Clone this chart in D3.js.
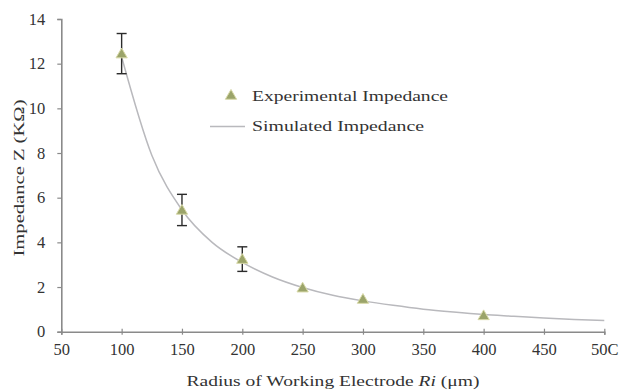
<!DOCTYPE html>
<html>
<head>
<meta charset="utf-8">
<script src="https://cdn.jsdelivr.net/npm/d3@7/dist/d3.min.js"></script>
<style>
  html, body { margin: 0; padding: 0; background: #fff; }
  svg { display: block; }
  text { font-family: "Liberation Serif", "Times New Roman", serif; fill: #333; }
</style>
</head>
<body>
<svg id="chart" width="620" height="392"></svg>
<script>
// Measured impedance vs. working-electrode radius
const radii = [100, 150, 200, 250, 300, 400];
const impedance = [12.45, 5.45, 3.25, 1.97, 1.46, 0.73];
const errors = [0.9, 0.7, 0.55, 0, 0, 0];

// Simulated impedance curve
const simRadii = [100, 125, 150, 175, 200, 225, 250, 275, 300, 325, 350, 375, 400, 425, 450, 475, 500];
const simImpedance = [12.3, 7.9, 5.45, 4.0, 3.1, 2.45, 1.98, 1.63, 1.38, 1.18, 1.01, 0.88, 0.77, 0.69, 0.61, 0.55, 0.5];

const xTicks = [50, 100, 150, 200, 250, 300, 350, 400, 450, 500];
const yTicks = [0, 2, 4, 6, 8, 10, 12, 14];

const svg = d3.select("#chart");
const x = d3.scaleLinear().domain([50, 500]).range([61.3, 604.3]);
const y = d3.scaleLinear().domain([0, 14]).range([331.7, 19]);

const axisColor = "#8a8a8a";
const tickFont = "font-family: 'Liberation Serif', serif; font-size: 16.5px; fill: #333;";

// x axis
const xAxis = svg.append("g").attr("transform", `translate(0,${y(0)})`)
  .call(d3.axisBottom(x).tickValues(xTicks).tickSize(3).tickPadding(9)
    .tickFormat(d => d === 500 ? "50C" : d));
xAxis.select(".domain").attr("stroke", axisColor).attr("stroke-width", 1.6);
xAxis.selectAll(".tick line").attr("stroke", axisColor).attr("stroke-width", 1.2).attr("y1", -3);
xAxis.selectAll(".tick text").attr("style", tickFont);

// y axis
const yAxis = svg.append("g").attr("transform", `translate(${x(50)},0)`)
  .call(d3.axisLeft(y).tickValues(yTicks).tickSize(4).tickPadding(12));
yAxis.select(".domain").attr("stroke", axisColor).attr("stroke-width", 1.6);
yAxis.selectAll(".tick line").attr("stroke", axisColor).attr("stroke-width", 1.2);
yAxis.selectAll(".tick text").attr("style", tickFont);

// simulated curve
svg.append("path")
  .datum(simRadii.map((r, i) => [r, simImpedance[i]]))
  .attr("fill", "none")
  .attr("stroke", "#b9b9bd")
  .attr("stroke-width", 1.5)
  .attr("d", d3.line().x(d => x(d[0])).y(d => y(d[1])).curve(d3.curveMonotoneX));

// error bars
const pts = radii.map((r, i) => ({ r, z: impedance[i], e: errors[i] }));
const eb = svg.append("g").attr("stroke", "#2b2b2b").attr("stroke-width", 1.4);
pts.filter(d => d.e > 0).forEach(d => {
  eb.append("line").attr("x1", x(d.r)).attr("x2", x(d.r)).attr("y1", y(d.z + d.e)).attr("y2", y(d.z - d.e));
  eb.append("line").attr("x1", x(d.r) - 5).attr("x2", x(d.r) + 5).attr("y1", y(d.z + d.e)).attr("y2", y(d.z + d.e));
  eb.append("line").attr("x1", x(d.r) - 5).attr("x2", x(d.r) + 5).attr("y1", y(d.z - d.e)).attr("y2", y(d.z - d.e));
});

// experimental markers
const tri = d3.symbol().type(d3.symbolTriangle).size(55);
svg.append("g").selectAll("path").data(pts).join("path")
  .attr("d", tri)
  .attr("transform", d => `translate(${x(d.r)},${y(d.z) + 1})`)
  .attr("fill", "#9ba46a")
  .attr("stroke", "#d8d9a8")
  .attr("stroke-width", 1);

// legend
const lg = svg.append("g");
lg.append("path").attr("d", tri).attr("transform", "translate(231,96)")
  .attr("fill", "#9ba46a").attr("stroke", "#d8d9a8");
lg.append("text").attr("x", 252).attr("y", 101).attr("font-size", 15.5)
  .attr("textLength", 196).attr("lengthAdjust", "spacingAndGlyphs")
  .text("Experimental Impedance");
lg.append("line").attr("x1", 210).attr("x2", 245).attr("y1", 126.5).attr("y2", 126.5)
  .attr("stroke", "#b9b9bd").attr("stroke-width", 1.5);
lg.append("text").attr("x", 252).attr("y", 131).attr("font-size", 15.5)
  .attr("textLength", 172).attr("lengthAdjust", "spacingAndGlyphs")
  .text("Simulated Impedance");

// axis titles
const xt = svg.append("text").attr("x", 333).attr("y", 386).attr("text-anchor", "middle")
  .attr("font-size", 15).attr("textLength", 293).attr("lengthAdjust", "spacingAndGlyphs");
xt.append("tspan").text("Radius of Working Electrode ");
xt.append("tspan").attr("font-style", "italic").text("Ri");
xt.append("tspan").text(" (\u03BCm)");

svg.append("text").attr("transform", "translate(24,178) rotate(-90)")
  .attr("text-anchor", "middle").attr("font-size", 15)
  .attr("textLength", 157).attr("lengthAdjust", "spacingAndGlyphs")
  .text("Impedance Z (K\u03A9)");
</script>
</body>
</html>
